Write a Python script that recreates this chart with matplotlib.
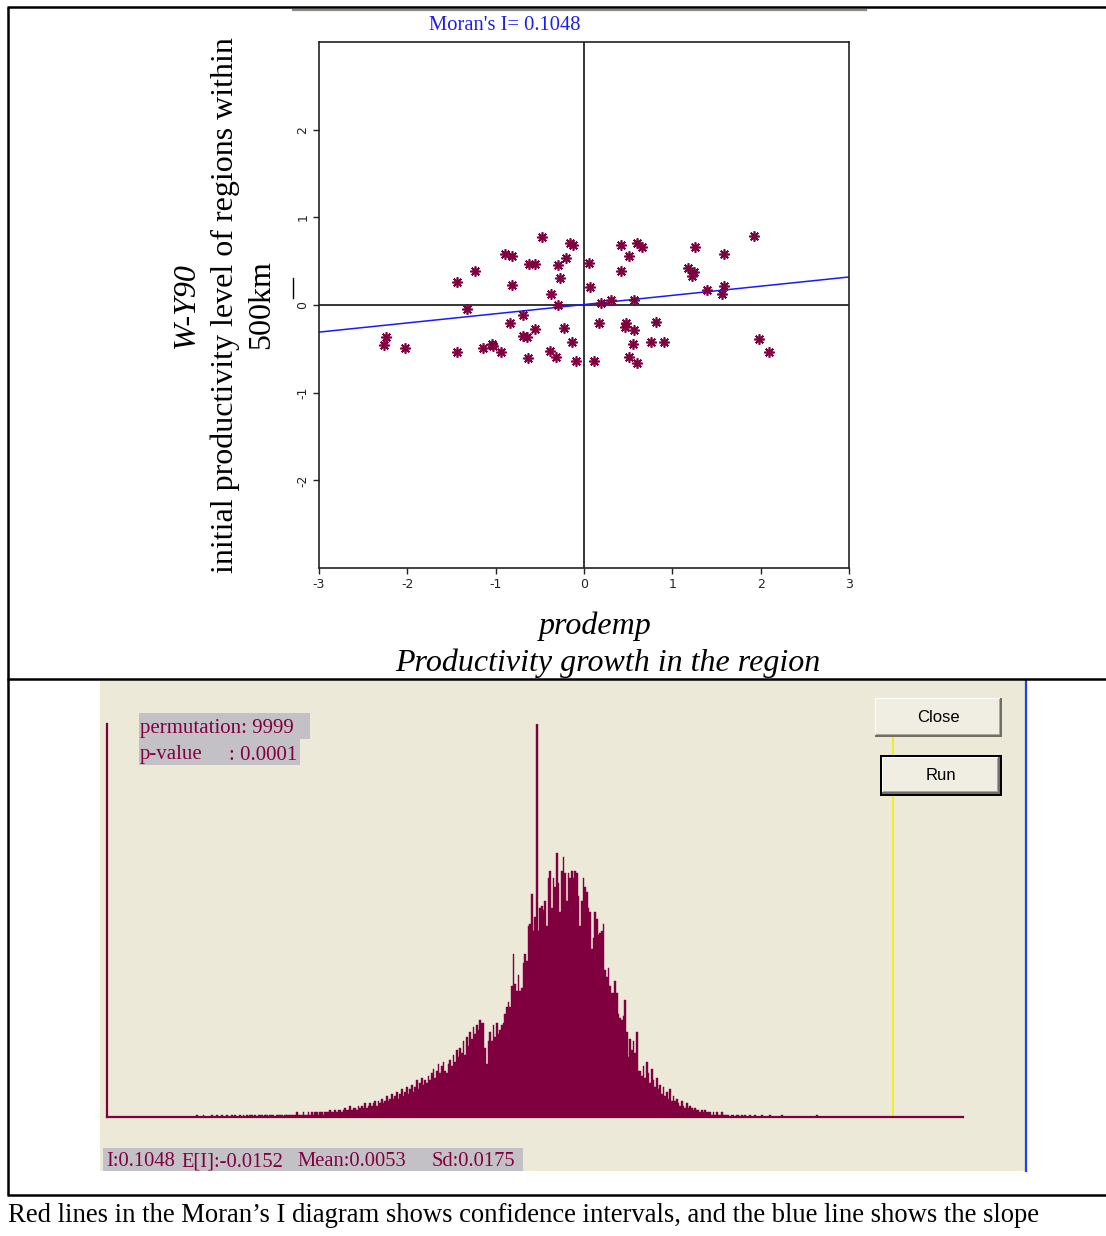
import matplotlib.pyplot as plt
from matplotlib.patches import Rectangle

W, H = 1106, 1236
MAROON = "#80003f"
BEIGE = "#ece9d8"
SERIF = ["Liberation Serif", "DejaVu Serif"]

# Moran scatter: prodemp (x) against spatial lag W-Y90 (y)
prodemp = [-0.47, -0.16, -0.13, -0.89, -0.82, -0.62, -0.55, -0.30, -0.20, -1.23,
           -1.44, -0.82, -0.27, -0.37, -0.30, -1.33, -0.69, -0.84, -0.55, -0.23,
           -0.69, -0.65, -2.24, -2.26, -2.03, -1.44, -1.14, -1.04, -1.03, -0.94,
           -0.63, -0.38, -0.32, -0.14, -0.09, 0.11, 0.06, 0.07, 0.19, 0.17,
           0.42, 0.60, 0.66, 0.51, 0.42, 1.26, 1.58, 1.92, 1.18, 1.25,
           1.22, 1.58, 1.56, 1.39, 0.30, 0.57, 0.48, 0.46, 0.57, 0.82,
           0.55, 0.76, 0.91, 0.51, 0.60, 1.98, 2.09]
wy90 = [0.77, 0.71, 0.68, 0.58, 0.56, 0.47, 0.47, 0.46, 0.54, 0.39,
        0.26, 0.23, 0.31, 0.13, 0.00, -0.05, -0.11, -0.21, -0.27, -0.26,
        -0.35, -0.36, -0.36, -0.46, -0.49, -0.54, -0.49, -0.44, -0.47, -0.54,
        -0.60, -0.53, -0.59, -0.42, -0.64, -0.64, 0.48, 0.20, 0.02, -0.21,
        0.69, 0.71, 0.66, 0.56, 0.39, 0.66, 0.58, 0.79, 0.42, 0.38,
        0.33, 0.22, 0.13, 0.17, 0.06, 0.06, -0.20, -0.25, -0.28, -0.19,
        -0.44, -0.42, -0.42, -0.59, -0.66, -0.39, -0.54]
moran_i = 0.1048
fit_intercept = 0.005
axis_ticks = [-3, -2, -1, 0, 1, 2, 3]
y_ticks = [-2, -1, 0, 1, 2]

# permutation histogram (9999 permutations), counts per bin
perm_start = -0.1053
perm_bin = 0.0005
perm_counts = [
    0, 0, 1, 0, 0, 0, 1, 0, 0, 0, 0, 1, 0, 0, 1, 0, 0, 1, 0, 0,
    1, 0, 0, 1, 0, 1, 0, 0, 1, 0, 1, 0, 1, 0, 1, 1, 0, 1, 0, 1,
    1, 1, 0, 1, 1, 0, 1, 1, 1, 0, 1, 1, 1, 1, 0, 1, 1, 1, 1, 1,
    1, 1, 2, 1, 1, 1, 2, 1, 1, 2, 1, 2, 1, 2, 2, 1, 2, 2, 1, 2,
    2, 2, 3, 2, 2, 3, 2, 3, 3, 2, 3, 4, 3, 3, 5, 3, 4, 4, 3, 5,
    4, 5, 4, 6, 4, 5, 6, 5, 6, 7, 5, 7, 6, 8, 6, 7, 9, 7, 8, 10,
    8, 9, 11, 8, 10, 12, 9, 11, 13, 10, 12, 14, 11, 13, 16, 12, 15, 17, 14, 16,
    15, 18, 16, 19, 21, 17, 20, 23, 19, 22, 24, 20, 19, 23, 25, 22, 27, 24, 29, 26,
    30, 28, 33, 27, 35, 31, 37, 34, 39, 36, 40, 38, 42, 41,
    41, 30, 23, 33, 37, 33, 40, 35, 41, 36, 38, 40, 41, 45, 48, 50, 48, 57, 71, 58,
    55, 62, 55, 56, 67, 71, 68, 83, 84, 97, 81, 87, 171, 81, 91, 92, 90, 94, 83, 104,
    107, 91, 104, 100, 115, 102, 89, 107, 113, 106, 94, 106, 104, 107, 104, 107, 106, 96, 83, 94,
    104, 100, 98, 91, 89, 73, 78, 89, 86, 79, 80, 81, 84, 64, 61, 65, 57, 54, 54, 59,
    54, 45, 43, 42, 44, 51, 37, 26, 34, 29, 33, 28, 37, 20, 20,
    18, 22, 17, 24, 19, 15, 21, 16, 13, 17, 12, 14, 10, 13, 9, 11, 8, 12, 7, 9,
    7, 8, 6, 5, 7, 5, 4, 6, 4, 5, 4, 3, 4, 3, 3, 2, 3, 2, 3, 2,
    2, 2, 1, 2, 1, 2, 1, 1, 2, 1, 1, 1, 1, 0, 1, 1, 0, 1, 1, 0,
    1, 0, 1, 0, 0, 1, 0, 0, 1, 0, 0, 0, 1, 0, 0, 0, 0, 1, 0, 0,
    0, 0, 0, 0, 1, 0, 0, 0, 0, 0, 0, 0, 0, 0, 0, 0, 0, 0, 0, 0,
    0, 0, 0, 0, 0, 1, 0, 0,
]
hist_range = (-0.1310, 0.1258)
expected_i = -0.0152
perm_mean = 0.0053
perm_sd = 0.0175
n_perm = 9999
p_value = 0.0001


def box(x0, y0, x1, y1):
    return [x0 / W, 1 - y1 / H, (x1 - x0) / W, (y1 - y0) / H]


fig = plt.figure(figsize=(W / 100, H / 100), dpi=100)
fig.patch.set_facecolor("white")

# background layer in pixel coordinates
bg = fig.add_axes([0, 0, 1, 1], zorder=0)
bg.set_xlim(0, W)
bg.set_ylim(H, 0)
bg.axis("off")

bg.add_patch(Rectangle((100, 680), 926, 491, facecolor=BEIGE, edgecolor="none"))
bg.plot([1026, 1026], [680, 1171], color="#1f3cff", lw=1.6)
bg.plot([293, 866], [9.5, 9.5], color="#8a8a80", lw=1.6)
for xs, ys in [([7, W], [7, 7]), ([7.5, 7.5], [7, 1195]),
               ([7, W], [679, 679]), ([7, W], [1195, 1195])]:
    bg.plot(xs, ys, color="black", lw=1.8, solid_capstyle="butt")
bg.plot([293, 293], [278, 298], color="black", lw=1)

# axis labels of the scatter
bg.text(186, 305, "W-Y90", rotation=90, ha="center", va="center",
        family=SERIF, style="italic", fontsize=23)
bg.text(225, 305, "initial productivity level of regions within", rotation=90,
        ha="center", va="center", family=SERIF, fontsize=23)
bg.text(262, 305, "500km", rotation=90, ha="center", va="center",
        family=SERIF, fontsize=23)
bg.text(595, 626, "prodemp", ha="center", va="center", family=SERIF,
        style="italic", fontsize=23)
bg.text(608, 663, "Productivity growth in the region", ha="center", va="center",
        family=SERIF, style="italic", fontsize=23)
bg.text(505, 26, f"Moran's I= {moran_i:.4f}", ha="center", va="center",
        family=SERIF, fontsize=14.8, color="#1c1cf0")

# histogram text boxes
bg.add_patch(Rectangle((139, 713), 171, 26, facecolor="#c3c1c6", edgecolor="none"))
bg.add_patch(Rectangle((139, 739), 161, 26, facecolor="#c3c1c6", edgecolor="none"))
bg.text(140, 729, f"permutation: {n_perm}", va="center", family=SERIF,
        fontsize=15, color=MAROON)
bg.text(140, 755, "p-value", va="center", family=SERIF, fontsize=15, color=MAROON)
bg.text(229, 755, f": {p_value:.4f}", va="center", family=SERIF, fontsize=15, color=MAROON)
bg.add_patch(Rectangle((103, 1148), 420, 23, facecolor="#c3c1c6", edgecolor="none"))
stats = [(106, f"I:{moran_i:.4f}"), (181, f"E[I]:{expected_i:.4f}"),
         (297, f"Mean:{perm_mean:.4f}"), (432, f"Sd:{perm_sd:.4f}")]
for x, s in stats:
    bg.text(x, 1162, s, va="center", family=SERIF, fontsize=14.8, color=MAROON)

bg.text(8, 1216, "Red lines in the Moran\u2019s I diagram shows confidence intervals, "
        "and the blue line shows the slope", va="center", family=SERIF, fontsize=19.2)

# Moran scatter plot
ax = fig.add_axes(box(319, 42, 849, 568), zorder=1)
ax.set_facecolor("white")
ax.set_xlim(-3, 3)
ax.set_ylim(-3, 3)
ax.axhline(0, color="black", lw=1.1)
ax.axvline(0, color="black", lw=1.1)
line_x = [-3, 3]
ax.plot(line_x, [fit_intercept + moran_i * v for v in line_x], color="#1a1aff", lw=1.1)
ax.plot(prodemp, wy90, ls="none", marker=(8, 2, 0), ms=7.5, mew=1.2, color=MAROON)
ax.plot(prodemp, wy90, ls="none", marker="o", ms=3.2, color=MAROON)
for s in ax.spines.values():
    s.set_linewidth(1.2)
    s.set_color("#222222")
ax.set_xticks(axis_ticks)
ax.set_xticklabels([str(t) for t in axis_ticks], fontsize=9)
ax.set_yticks(y_ticks)
ax.set_yticklabels([str(t) for t in y_ticks], fontsize=9, rotation=90, va="center")
ax.tick_params(direction="out", length=4, width=1, pad=3, colors="#222222")

# permutation histogram
hx = fig.add_axes(box(107, 724, 963, 1117), zorder=1)
hx.set_facecolor("none")
edges = [perm_start + i * perm_bin for i in range(len(perm_counts))]
hx.bar(edges, perm_counts, width=perm_bin, align="edge", color=MAROON,
       edgecolor=MAROON, linewidth=0.3)
hx.axvline(moran_i, color="#f0f000", lw=1.2)
hx.set_xlim(*hist_range)
hx.set_ylim(0, max(perm_counts))
for side in ["top", "right"]:
    hx.spines[side].set_visible(False)
for side in ["left", "bottom"]:
    hx.spines[side].set_color(MAROON)
    hx.spines[side].set_linewidth(1.6)
hx.set_xticks([])
hx.set_yticks([])

# dialog buttons on top
top = fig.add_axes([0, 0, 1, 1], zorder=2)
top.set_xlim(0, W)
top.set_ylim(H, 0)
top.axis("off")
top.set_facecolor("none")


def button(x0, y0, x1, y1, label, default=False):
    if default:
        top.add_patch(Rectangle((x0, y0), x1 - x0, y1 - y0, facecolor="black", edgecolor="none"))
        x0, y0, x1, y1 = x0 + 2, y0 + 2, x1 - 2, y1 - 2
    top.add_patch(Rectangle((x0, y0), x1 - x0, y1 - y0, facecolor="#716f64", edgecolor="none"))
    top.add_patch(Rectangle((x0, y0), x1 - x0 - 2, y1 - y0 - 2, facecolor="#ffffff", edgecolor="none"))
    top.add_patch(Rectangle((x0 + 1, y0 + 1), x1 - x0 - 3, y1 - y0 - 3, facecolor="#aca899", edgecolor="none"))
    top.add_patch(Rectangle((x0 + 1, y0 + 1), x1 - x0 - 4, y1 - y0 - 4, facecolor="#f0eee3", edgecolor="none"))
    top.text((x0 + x1) / 2, (y0 + y1) / 2, label, ha="center", va="center",
             family=["Liberation Sans", "DejaVu Sans"], fontsize=12, color="black")


button(875, 698, 1002, 737, "Close")
button(880, 755, 1002, 796, "Run", default=True)

fig.savefig("out.png", dpi=100, facecolor="white")
